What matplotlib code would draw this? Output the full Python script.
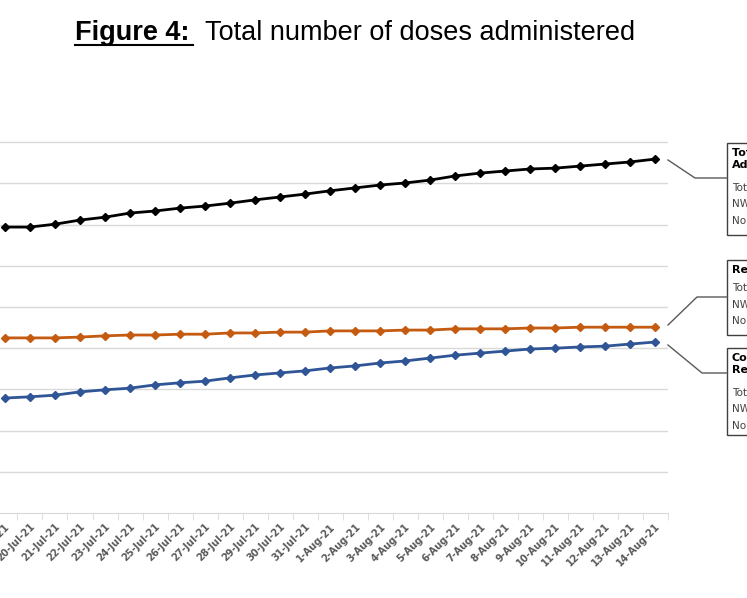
import matplotlib
matplotlib.use("Agg")
import matplotlib.pyplot as plt
from matplotlib.lines import Line2D

dates = ["19-Jul-21","20-Jul-21","21-Jul-21","22-Jul-21","23-Jul-21","24-Jul-21","25-Jul-21",
         "26-Jul-21","27-Jul-21","28-Jul-21","29-Jul-21","30-Jul-21","31-Jul-21","1-Aug-21",
         "2-Aug-21","3-Aug-21","4-Aug-21","5-Aug-21","6-Aug-21","7-Aug-21","8-Aug-21","9-Aug-21",
         "10-Aug-21","11-Aug-21","12-Aug-21","13-Aug-21","14-Aug-21"]
total = [6.94,6.94,7.01,7.11,7.18,7.28,7.33,7.40,7.45,7.52,7.60,7.67,7.74,7.82,7.89,7.96,
         8.01,8.08,8.18,8.25,8.30,8.35,8.37,8.42,8.47,8.52,8.59]
first = [4.25,4.25,4.25,4.27,4.30,4.32,4.32,4.34,4.34,4.37,4.37,4.39,4.39,4.42,4.42,4.42,
         4.44,4.44,4.47,4.47,4.47,4.49,4.49,4.51,4.51,4.51,4.51]
complete = [2.79,2.82,2.86,2.94,2.99,3.03,3.11,3.16,3.20,3.28,3.35,3.40,3.45,3.52,3.57,3.64,
            3.69,3.76,3.83,3.88,3.93,3.98,4.00,4.03,4.05,4.10,4.15]

W, H = 747, 598
fig = plt.figure(figsize=(W/100, H/100), dpi=100)
ax = fig.add_axes([0, (H-513)/H, 668/W, 412/H])
x = list(range(len(dates)))
ax.plot(x, total, color="black", marker="D", markersize=4.5, lw=2)
ax.plot(x, first, color="#c55a11", marker="D", markersize=4.5, lw=2)
ax.plot(x, complete, color="#2f5597", marker="D", markersize=4.5, lw=2)
ax.set_xlim(26.52 - 668/25, 26.52)
ax.set_ylim(0, 10)
ax.set_yticks(range(1, 10))
ax.yaxis.grid(True, color="#d9d9d9", lw=1)
ax.set_yticklabels([])
ax.tick_params(axis="y", length=0)
ax.set_xticks(x)
ax.set_xticklabels(dates, rotation=45, ha="right", rotation_mode="anchor",
                   fontsize=7, color="#595959", fontweight="bold")
ax.set_xticks([i + 0.5 for i in x], minor=True)
ax.tick_params(axis="x", which="major", length=0, pad=6)
ax.tick_params(axis="x", which="minor", length=5, color="#d9d9d9")
for s in ["top", "right", "left"]:
    ax.spines[s].set_visible(False)
ax.spines["bottom"].set_color("#d9d9d9")
ax.set_axisbelow(True)

def px(xp, yp):
    return (xp / W, 1 - yp / H)

for pts in [[(668, 160), (695, 178), (727, 178)],
            [(668, 325), (697, 297), (727, 297)],
            [(668, 345), (702, 373), (727, 373)]]:
    xs = [p[0] / W for p in pts]; ys = [1 - p[1] / H for p in pts]
    fig.add_artist(Line2D(xs, ys, color="#595959", lw=1))

for (y0, y1, head, rest) in [(143, 235, "Total Doses\nAdministered", ["Total:", "NW:", "North:"]),
                             (260, 335, "Received", ["Total:", "NW:", "North:"]),
                             (348, 435, "Completed\nRegimen", ["Total:", "NW:", "North:"])]:
    fig.add_artist(plt.Rectangle(px(727, y1), 40 / W, (y1 - y0) / H, fill=False,
                                 edgecolor="#404040", lw=1, transform=fig.transFigure))
    fig.text(732 / W, 1 - (y0 + 5) / H, head, fontsize=8, fontweight="bold", va="top",
             linespacing=1.3)
    nh = head.count("\n") + 1
    for i, r in enumerate(rest):
        fig.text(732 / W, 1 - (y0 + 6 + 17 * nh + 16.5 * i) / H, r, fontsize=7.5,
                 color="#404040", va="top")

fig.text(75 / W, 1 - 33 / H, "Figure 4:", fontsize=19.5, fontweight="bold",
         family="Liberation Sans", va="center")
fig.text(205 / W, 1 - 33 / H, "Total number of doses administered", fontsize=19.5,
         family="Liberation Sans", va="center")
fig.add_artist(Line2D([75 / W, 193 / W], [1 - 45 / H] * 2, color="black", lw=1.5))

fig.savefig("out.png", dpi=100)
